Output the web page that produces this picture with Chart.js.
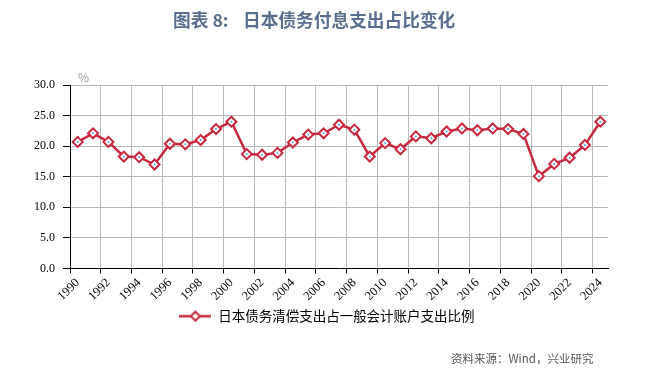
<!DOCTYPE html>
<html><head><meta charset="utf-8">
<script src="https://cdn.jsdelivr.net/npm/chart.js@4/dist/chart.umd.min.js"></script>
<style>
html,body{margin:0;padding:0;background:#fff;}
#wrap{position:relative;width:654px;height:373px;overflow:hidden;}
#c{position:absolute;left:0;top:0;}
.t{position:absolute;white-space:nowrap;font-family:"Noto Sans CJK SC",sans-serif;}
</style></head><body>
<div id="wrap">
<canvas id="c" width="654" height="373"></canvas>
<div class="t" style="left:173px;top:7px;font-size:17.7px;font-weight:bold;color:#5a6f8f;line-height:24px;">图表 8:</div>
<div class="t" style="left:243px;top:7px;font-size:17.7px;font-weight:bold;color:#5a6f8f;line-height:24px;">日本债务付息支出占比变化</div>
<div class="t" style="left:78px;top:70px;font-size:12px;color:#999;line-height:14px;">%</div>
<div class="t" style="left:451px;top:350px;font-size:11.5px;color:#555;line-height:16px;">资料来源：Wind，兴业研究</div>
</div>
<script>
const years = ['1990','1991','1992','1993','1994','1995','1996','1997','1998','1999',
  '2000','2001','2002','2003','2004','2005','2006','2007','2008','2009',
  '2010','2011','2012','2013','2014','2015','2016','2017','2018','2019',
  '2020','2021','2022','2023','2024'];
const debtShare = [20.7,22.1,20.7,18.3,18.2,17.0,20.4,20.3,21.0,22.8,
  24.0,18.7,18.6,18.9,20.6,21.9,22.1,23.5,22.7,18.3,
  20.5,19.5,21.6,21.3,22.4,22.9,22.6,22.9,22.8,22.0,
  15.1,17.1,18.1,20.2,24.0];
const yTicks = [0,5,10,15,20,25,30];
const seriesName = '日本债务清偿支出占一般会计账户支出比例';

const RED = '#c8283f';

// legend symbol: line with diamond marker
const sym = document.createElement('canvas');
sym.width = 32; sym.height = 12;
(function(){
  const g = sym.getContext('2d');
  g.strokeStyle = RED; g.lineWidth = 2.5;
  g.beginPath(); g.moveTo(0,6); g.lineTo(32,6); g.stroke();
  g.beginPath(); g.moveTo(16,1.5); g.lineTo(20.5,6); g.lineTo(16,10.5); g.lineTo(11.5,6); g.closePath();
  g.fillStyle = '#fff'; g.fill(); g.lineWidth = 2; g.stroke();
})();

new Chart(document.getElementById('c'), {
  type: 'line',
  data: {
    labels: years,
    datasets: [{
      label: seriesName,
      data: debtShare,
      borderColor: RED,
      borderWidth: 2.5,
      pointStyle: 'rectRot',
      pointRadius: 5,
      pointBorderWidth: 2,
      pointBackgroundColor: '#fff',
      pointBorderColor: RED,
      tension: 0,
      fill: false,
      order: 2
    }, {
      label: 'centre',
      data: debtShare,
      showLine: false,
      pointStyle: 'circle',
      pointRadius: 1,
      pointBorderWidth: 0,
      pointBackgroundColor: '#4aa3e0',
      order: 1
    }]
  },
  options: {
    responsive: false,
    animation: false,
    devicePixelRatio: 1,
    layout: { padding: { top: 85, left: 0, right: 0, bottom: 40 } },
    plugins: {
      title: { display: false },
      tooltip: { enabled: false },
      legend: {
        position: 'bottom',
        labels: {
          usePointStyle: true,
          pointStyleWidth: 32,
          padding: 7,
          color: '#000',
          font: { family: '"Noto Sans CJK SC"', size: 13.5 },
          generateLabels: () => [{
            text: seriesName, pointStyle: sym, fillStyle: 'transparent',
            strokeStyle: 'transparent', lineWidth: 0, fontColor: '#000', datasetIndex: 0, hidden: false
          }]
        }
      }
    },
    scales: {
      x: {
        type: 'category',
        offset: true,
        grid: {
          offset: true,
          color: c => (c.index % 2 === 0 && c.index < years.length) ? '#b8b8b8' : 'rgba(0,0,0,0)',
          tickColor: c => (c.index % 2 === 0 && c.index < years.length) ? '#000' : 'rgba(0,0,0,0)',
          tickLength: 5,
          lineWidth: 1
        },
        border: { color: '#000', width: 1 },
        ticks: {
          autoSkip: false,
          maxRotation: 45,
          minRotation: 45,
          padding: 2,
          color: '#000',
          font: { family: '"Liberation Serif"', size: 12.5 },
          callback: (v, i) => (i % 2 === 0 ? years[i] : '')
        },
        afterFit: s => { s.height = 34; }
      },
      y: {
        min: 0, max: 30,
        afterBuildTicks: s => { s.ticks = yTicks.map(v => ({ value: v })); },
        grid: { color: '#b8b8b8', tickColor: '#000', tickLength: 7, lineWidth: 1 },
        border: { color: '#000', width: 1 },
        ticks: {
          padding: 8,
          color: '#000',
          font: { family: '"Liberation Serif"', size: 12 },
          callback: v => Number(v).toFixed(1)
        },
        afterFit: s => { s.width = 70; }
      },
      y2: {
        position: 'right',
        display: true,
        grid: { drawOnChartArea: false, drawTicks: false },
        border: { display: false },
        ticks: { display: false },
        afterFit: s => { s.width = 46; }
      }
    }
  }
});
</script>
</body></html>
